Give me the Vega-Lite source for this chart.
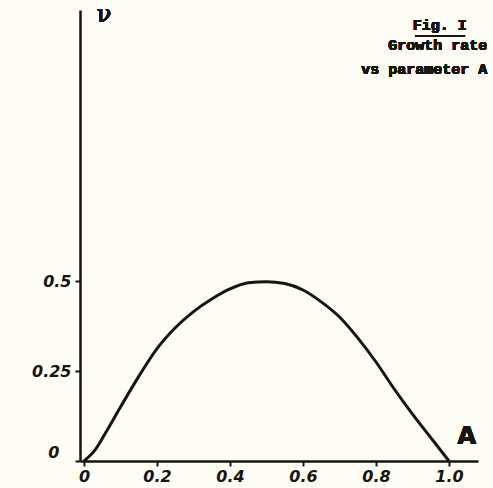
{
  "$schema": "https://vega.github.io/schema/vega-lite/v6.json",
  "width": 398,
  "height": 451,
  "autosize": {"type": "none"},
  "padding": {"left": 80, "top": 10, "right": 15, "bottom": 27},
  "background": "#fdfcf5",
  "config": {"view": {"stroke": null}},
  "data": {"values": [
    {"A": 0, "nu": 0},
    {"A": 0.03, "nu": 0.03},
    {"A": 0.06, "nu": 0.08},
    {"A": 0.1, "nu": 0.15},
    {"A": 0.15, "nu": 0.235},
    {"A": 0.2, "nu": 0.312},
    {"A": 0.25, "nu": 0.37},
    {"A": 0.3, "nu": 0.415},
    {"A": 0.35, "nu": 0.45},
    {"A": 0.4, "nu": 0.478},
    {"A": 0.45, "nu": 0.495},
    {"A": 0.5, "nu": 0.498},
    {"A": 0.55, "nu": 0.493},
    {"A": 0.6, "nu": 0.475},
    {"A": 0.65, "nu": 0.442},
    {"A": 0.7, "nu": 0.4},
    {"A": 0.75, "nu": 0.342},
    {"A": 0.8, "nu": 0.275},
    {"A": 0.85, "nu": 0.2},
    {"A": 0.9, "nu": 0.13},
    {"A": 0.95, "nu": 0.065},
    {"A": 1.0, "nu": 0}
  ]},
  "layer": [
    {
      "mark": {"type": "line", "interpolate": "monotone", "color": "#1a1410", "strokeWidth": 3},
      "encoding": {
        "x": {
          "field": "A", "type": "quantitative",
          "scale": {"domain": [-0.011, 1.0795], "nice": false, "zero": false},
          "axis": {
            "values": [0, 0.2, 0.4, 0.6, 0.8, 1.0],
            "labelExpr": "datum.value === 0 ? '0' : format(datum.value, '.1f')",
            "title": null, "grid": false,
            "domainColor": "#1a1410", "domainWidth": 2.5,
            "tickColor": "#1a1410", "tickWidth": 2, "tickSize": 5,
            "labelFont": "DejaVu Sans", "labelFontStyle": "italic", "labelFontWeight": "bold",
            "labelFontSize": 16, "labelColor": "#1a1410", "labelPadding": 2
          }
        },
        "y": {
          "field": "nu", "type": "quantitative",
          "scale": {"domain": [0, 1.2528], "nice": false},
          "axis": {
            "values": [0, 0.25, 0.5],
            "labelExpr": "datum.value === 0 ? '0' : datum.value === 0.25 ? '0.25' : '0.5'",
            "labelOffset": {"condition": {"test": "datum.value === 0", "value": -9}, "value": 0},
            "labelPadding": {"condition": {"test": "datum.value === 0", "value": 16}, "value": 4},
            "title": null, "grid": false,
            "domainColor": "#1a1410", "domainWidth": 2.5,
            "tickColor": "#1a1410", "tickWidth": 2, "tickSize": 5,
            "labelFont": "DejaVu Sans", "labelFontStyle": "italic", "labelFontWeight": "bold",
            "labelFontSize": 16, "labelColor": "#1a1410"
          }
        }
      }
    },
    {
      "mark": {"type": "text", "font": "DejaVu Serif", "fontSize": 24, "color": "#1a1410", "align": "left", "baseline": "middle"},
      "encoding": {"x": {"datum": 0.035}, "y": {"datum": 1.24}, "text": {"value": "ν"}}
    },
    {
      "mark": {"type": "text", "font": "DejaVu Sans", "fontSize": 24, "fontWeight": "bold", "color": "#1a1410", "align": "center", "baseline": "middle"},
      "encoding": {"x": {"datum": 1.049}, "y": {"datum": 0.067}, "text": {"value": "A"}}
    },
    {
      "mark": {"type": "text", "font": "Liberation Mono", "fontSize": 15, "fontWeight": "bold", "color": "#1a1410", "align": "center", "baseline": "middle"},
      "encoding": {"x": {"datum": 0.975}, "y": {"datum": 1.21}, "text": {"value": "Fig. I"}}
    },
    {
      "mark": {"type": "rule", "color": "#1a1410", "strokeWidth": 1.5},
      "encoding": {"x": {"datum": 0.907}, "x2": {"datum": 1.044}, "y": {"datum": 1.181}}
    },
    {
      "mark": {"type": "text", "font": "Liberation Mono", "fontSize": 15, "fontWeight": "bold", "color": "#1a1410", "align": "right", "baseline": "middle"},
      "encoding": {"x": {"datum": 1.105}, "y": {"datum": 1.155}, "text": {"value": "Growth rate"}}
    },
    {
      "mark": {"type": "text", "font": "Liberation Mono", "fontSize": 15, "fontWeight": "bold", "color": "#1a1410", "align": "right", "baseline": "middle"},
      "encoding": {"x": {"datum": 1.105}, "y": {"datum": 1.09}, "text": {"value": "vs parameter  A"}}
    }
  ]
}
